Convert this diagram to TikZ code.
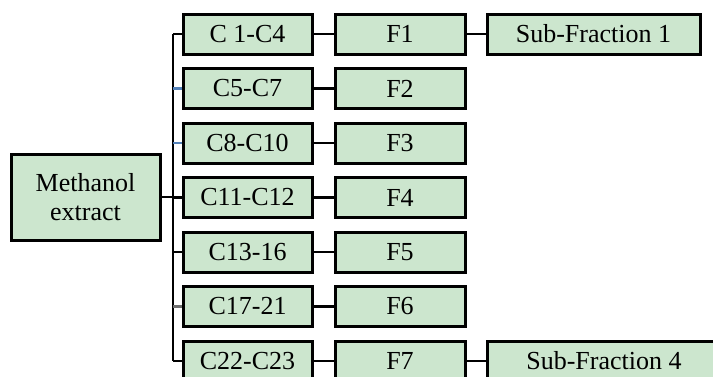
\documentclass[tikz,border=0pt]{standalone}
\usepackage{fontspec}
\setmainfont{Liberation Serif}
\definecolor{boxfill}{RGB}{204,230,206}
\definecolor{stubblue}{RGB}{84,130,186}
\definecolor{stubgray}{RGB}{110,110,110}
\begin{document}
\begin{tikzpicture}[x=1pt,y=-1pt,
  fbox/.style={draw=black,line width=3pt,fill=boxfill,minimum height=40pt,
    inner sep=0pt,font=\fontsize{26}{29}\selectfont},
  colA/.style={fbox,minimum width=129pt},
  colB/.style={fbox,minimum width=130pt},
  colC/.style={fbox,minimum width=213pt},
  link/.style={draw=black,line width=2.6pt}]
\useasboundingbox (0,0) rectangle (713,376);
\clip (0,0) rectangle (713,376);

% source box
\node[fbox,minimum width=149pt,minimum height=86pt,align=center] (src) at (85.5,197)
  {Methanol\\extract};

% column groups
\node[colA] (c1) at (247.5,34)    {C 1-C4};
\node[colA] (c2) at (247.5,88.5)  {C5-C7};
\node[colA] (c3) at (247.5,143)   {C8-C10};
\node[colA] (c4) at (247.5,197.5) {C11-C12};
\node[colA] (c5) at (247.5,252)   {C13-16};
\node[colA] (c6) at (247.5,306.5) {C17-21};
\node[colA] (c7) at (247.5,361)   {C22-C23};

% fractions
\node[colB] (f1) at (400,34)    {F1};
\node[colB] (f2) at (400,88.5)  {F2};
\node[colB] (f3) at (400,143)   {F3};
\node[colB] (f4) at (400,197.5) {F4};
\node[colB] (f5) at (400,252)   {F5};
\node[colB] (f6) at (400,306.5) {F6};
\node[colB] (f7) at (400,361)   {F7};

% sub-fractions
\node[colC] (s1) at (593.5,34) {Sub-Fraction 1};
\node[colC,minimum width=234pt] (s4) at (604,361) {Sub-Fraction 4};

% trunk from the source to each group
\coordinate (top) at (173,34);
\coordinate (bot) at (173,361);
\draw[link] (top) -- (bot);
\draw[link] (src.east) -- (src.east -| top);
\draw[link] (c1.west) -- (c1.west -| top);
\draw[link,draw=stubblue] (c2.west) -- (c2.west -| top);
\draw[link,draw=stubblue] (c3.west) -- (c3.west -| top);
\draw[link] (c4.west) -- (c4.west -| top);
\draw[link] (c5.west) -- (c5.west -| top);
\draw[link,draw=stubgray] (c6.west) -- (c6.west -| top);
\draw[link] (c7.west) -- (c7.west -| top);

% group to fraction
\foreach \i in {1,...,7} \draw[link] (c\i) -- (f\i);
% fraction to sub-fraction
\draw[link] (f1) -- (s1);
\draw[link] (f7) -- (s4);
\end{tikzpicture}
\end{document}
